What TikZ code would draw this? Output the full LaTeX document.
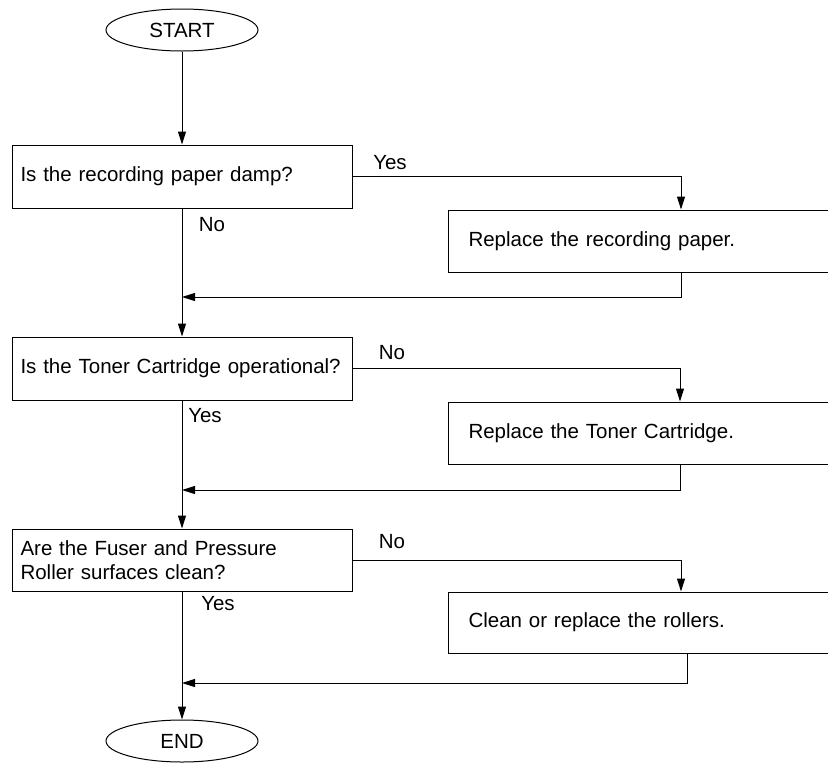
\documentclass[tikz,border=0pt]{standalone}
\usepackage{fontspec}
\setmainfont{Liberation Sans}
\usetikzlibrary{arrows.meta,shapes.geometric}
\begin{document}
\begin{tikzpicture}[x=1pt,y=-1pt,
  font=\fontsize{20.5}{24.5}\selectfont,
  line width=1pt,
  arr/.style={-{Triangle[length=13pt,width=8pt]}},
  term/.style={draw,ellipse,minimum width=152pt,minimum height=42pt,inner sep=0pt},
  qbox/.style={draw,rectangle,minimum width=340pt,text width=323pt,inner xsep=8.5pt,inner ysep=0pt,align=left},
  abox/.style={draw,rectangle,anchor=west,minimum width=420pt,text width=380pt,inner xsep=20pt,inner ysep=0pt,align=left},
  lbl/.style={inner sep=0pt}]
\clip (0,0) rectangle (828,764);

\node[term] (start) at (182,30) {START};
\node[qbox,minimum height=63pt] (q1) at (182,176.5) {Is the recording paper damp?};
\node[abox,minimum height=62pt] (r1) at (448,241) {Replace the recording paper.};
\node[qbox,minimum height=63pt] (q2) at (182,368.5) {Is the Toner Cartridge operational?};
\node[abox,minimum height=62pt] (r2) at (448,433) {Replace the Toner Cartridge.};
\node[qbox,minimum height=62pt] (q3) at (182,560) {Are the Fuser and Pressure\\Roller surfaces clean?};
\node[abox,minimum height=61pt] (r3) at (448,622.5) {Clean or replace the rollers.};
\node[term] (end) at (182,741) {END};

\coordinate (xa) at (681,0);
\coordinate (xb) at (680,0);
\coordinate (xc) at (687,0);
\coordinate (j1) at (182,297);
\coordinate (j2) at (182,490);
\coordinate (j3) at (182,683);

% main spine
\draw[arr] (start) -- (q1);
\draw[arr] (q1) -- (q2);
\draw[arr] (q2) -- (q3);
\draw[arr] (q3) -- (end);

% branches
\draw[arr] (q1.east) -| (xa |- r1.north);
\draw[arr] (xa |- r1.south) |- (j1);
\draw[arr] (q2.east) -| (xb |- r2.north);
\draw[arr] (xb |- r2.south) |- (j2);
\draw[arr] (q3.east) -| (xa |- r3.north);
\draw[arr] (xc |- r3.south) |- (j3);

% labels
\node[lbl] (l1) at (390,163) {Yes};
\node[lbl] (l2) at (212,225) {No};
\node[lbl] (l3) at (392,353) {No};
\node[lbl] (l4) at (205,416) {Yes};
\node[lbl] (l5) at (392,542) {No};
\node[lbl] (l6) at (218,604) {Yes};
\end{tikzpicture}
\end{document}
